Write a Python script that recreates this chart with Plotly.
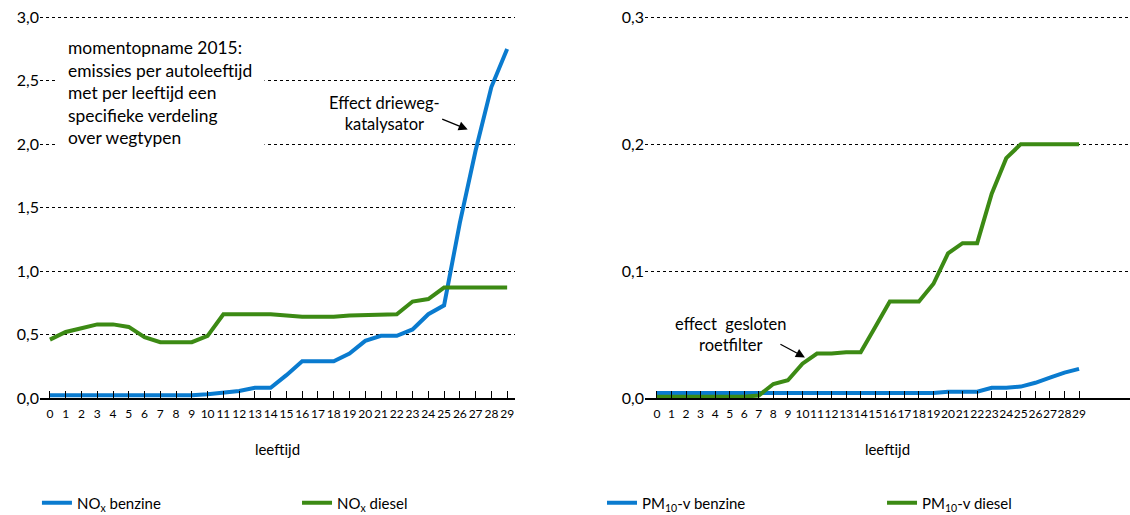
import plotly.graph_objects as go
from plotly.subplots import make_subplots

leeftijd = list(range(30))

nox_benzine = [0.021, 0.021, 0.021, 0.021, 0.021, 0.021, 0.021, 0.021, 0.021, 0.021,
               0.03, 0.04, 0.055, 0.08, 0.08, 0.18, 0.29, 0.29, 0.29, 0.35,
               0.45, 0.49, 0.49, 0.54, 0.66, 0.73, 1.38, 1.95, 2.45, 2.75]
nox_diesel = [0.46, 0.52, 0.55, 0.58, 0.58, 0.56, 0.48, 0.44, 0.44, 0.44,
              0.49, 0.66, 0.66, 0.66, 0.66, 0.65, 0.64, 0.64, 0.64, 0.65,
              0.655, 0.66, 0.66, 0.76, 0.78, 0.87, 0.87, 0.87, 0.87, 0.87]
pm_benzine = [0.004] * 20 + [0.005, 0.005, 0.005, 0.008, 0.008, 0.009, 0.012, 0.016, 0.02, 0.023]
pm_diesel = [0.001, 0.001, 0.001, 0.001, 0.001, 0.001, 0.001, 0.002, 0.011, 0.014,
             0.027, 0.035, 0.035, 0.036, 0.036, 0.056, 0.076, 0.076, 0.076, 0.09,
             0.114, 0.122, 0.122, 0.161, 0.189, 0.2, 0.2, 0.2, 0.2, 0.2]

blauw = "#0a7bcf"
groen = "#3c8a14"
FONT = "Lato"

fig = make_subplots(rows=1, cols=2, horizontal_spacing=0.12)

fig.add_trace(go.Scatter(x=leeftijd, y=nox_benzine, mode="lines", name="NO<sub>x</sub> benzine",
                         line=dict(color=blauw, width=4), legend="legend"), row=1, col=1)
fig.add_trace(go.Scatter(x=leeftijd, y=nox_diesel, mode="lines", name="NO<sub>x</sub> diesel",
                         line=dict(color=groen, width=4), legend="legend2"), row=1, col=1)
fig.add_trace(go.Scatter(x=leeftijd, y=pm_benzine, mode="lines", name="PM<sub>10</sub>-v benzine",
                         line=dict(color=blauw, width=4), legend="legend3"), row=1, col=2)
fig.add_trace(go.Scatter(x=leeftijd, y=pm_diesel, mode="lines", name="PM<sub>10</sub>-v diesel",
                         line=dict(color=groen, width=4), legend="legend4"), row=1, col=2)

xas = dict(tickvals=leeftijd, ticktext=[str(i) for i in leeftijd], ticks="inside", ticklen=7,
           tickcolor="black", showline=True, linecolor="black", linewidth=1.5, showgrid=False,
           zeroline=False, tickangle=0, tickfont=dict(size=12, color="black"), ticklabelstandoff=4,
           title=dict(text="leeftijd", font=dict(size=15, color="black"), standoff=24))
yas = dict(showgrid=True, gridcolor="black", griddash="dot", gridwidth=1, zeroline=False,
           tickformat=".1f", tickfont=dict(size=16, color="black"), ticks="")

fig.update_xaxes(xas)
fig.update_yaxes(yas)
fig.update_layout(
    xaxis=dict(domain=[0, 0.4358], range=[-0.63, 29.5]),
    xaxis2=dict(domain=[0.555, 1.0], range=[-0.82, 32.5]),
    yaxis=dict(range=[0, 3.01], dtick=0.5),
    yaxis2=dict(range=[0, 0.301], dtick=0.1),
)

fig.add_annotation(xref="x", yref="y", x=0.3, y=2.41, xanchor="left", yanchor="middle",
                   align="left", showarrow=False, bgcolor="white", borderpad=12,
                   text="momentopname 2015:<br>emissies per autoleeftijd<br>met per leeftijd een<br>"
                        "specifieke verdeling<br>over wegtypen",
                   font=dict(size=17.4, color="black"))
fig.add_annotation(xref="x", yref="y", x=21.2, y=2.24, showarrow=False, align="center",
                   text="Effect drieweg-<br>katalysator", font=dict(size=16.5, color="black"))
fig.add_annotation(xref="x", yref="y", x=26.5, y=2.116, ax=-27, ay=-11, text="",
                   showarrow=True, arrowhead=2, arrowsize=1.4, arrowwidth=1.3, arrowcolor="black")
fig.add_annotation(xref="x2", yref="y2", x=5.1, y=0.050, showarrow=False, align="center",
                   text="effect  gesloten<br>roetfilter", font=dict(size=16.5, color="black"))
fig.add_annotation(xref="x2", yref="y2", x=10.17, y=0.032, ax=-26, ay=-14, text="",
                   showarrow=True, arrowhead=2, arrowsize=1.4, arrowwidth=1.3, arrowcolor="black")

leg = dict(orientation="h", xanchor="left", y=-0.275, yanchor="middle", font=dict(size=15))
fig.update_layout(
    width=1130, height=515,
    margin=dict(l=40, r=0, t=16, b=117, autoexpand=False),
    separators=", ",
    showlegend=True,
    plot_bgcolor="white", paper_bgcolor="white",
    font=dict(family=FONT, color="black"),
    legend=dict(leg, x=-0.0028),
    legend2=dict(leg, x=0.2358),
    legend3=dict(leg, x=0.5156),
    legend4=dict(leg, x=0.7725),
)

# pagina zonder standaard body-marge
fig.write_html("out.html", config={"displayModeBar": False},
               post_script="document.body.style.margin='0';")
